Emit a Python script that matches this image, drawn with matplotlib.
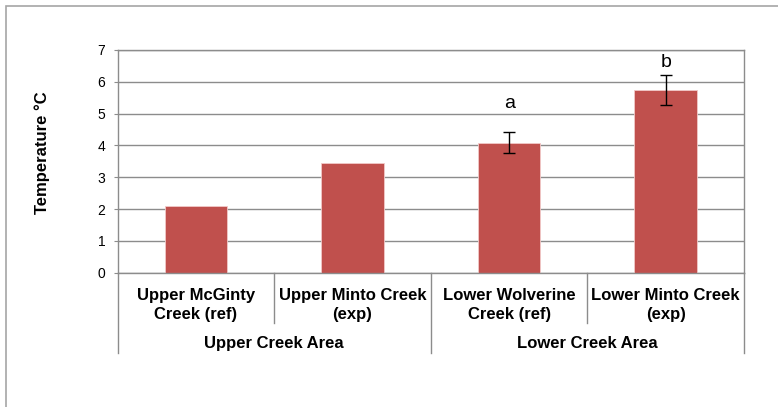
import matplotlib
matplotlib.use("Agg")
import matplotlib.pyplot as plt
from matplotlib.patches import Rectangle
from matplotlib.lines import Line2D

plt.rcParams['font.family'] = ['Liberation Sans', 'DejaVu Sans']

categories = ["Upper McGinty\nCreek (ref)", "Upper Minto Creek\n(exp)",
              "Lower Wolverine\nCreek (ref)", "Lower Minto Creek\n(exp)"]
groups = ["Upper Creek Area", "Lower Creek Area"]
values = [2.11, 3.46, 4.09, 5.73]
errors = [0, 0, 0.33, 0.47]
letters = ["", "", "a", "b"]
letter_y = [None, None, 5.33, 6.62]
yticks = [0, 1, 2, 3, 4, 5, 6, 7]

W, H = 778, 407
fig = plt.figure(figsize=(W / 100, H / 100), dpi=100)
# outer chart border (left and top visible)
fig.patches.append(Rectangle((6.5 / W, -0.1), 2, 1.1 - 6.5 / H, transform=fig.transFigure,
                             fill=False, edgecolor='#a6a6a6', lw=1.2))

left, right, top, bottom = 117.7, 744, 50, 272.7
ax = fig.add_axes([left / W, 1 - bottom / H, (right - left) / W, (bottom - top) / H])
ax.set_xlim(-0.5, 3.5)
ax.set_ylim(0, 7)
ax.set_yticks(yticks)
ax.set_yticklabels([str(t) for t in yticks], fontsize=10)
ax.yaxis.grid(True, color='#8c8c8c', lw=1)
ax.set_axisbelow(True)
ax.set_xticks([])
for s in ['left', 'bottom', 'right', 'top']:
    ax.spines[s].set_color('#8c8c8c')
    ax.spines[s].set_linewidth(1)
ax.tick_params(axis='y', length=3, color='#8c8c8c', pad=6)

x = list(range(len(categories)))
ax.bar(x, values, width=0.4, color='#c0504d', edgecolor='#f2c9c8', lw=0.6, zorder=2)
for xi, v, e in zip(x, values, errors):
    if e > 0:
        ax.errorbar(xi, v, yerr=e, fmt='none', ecolor='black', elinewidth=1, capsize=4, capthick=1, zorder=3)
for xi, l, ly in zip(x, letters, letter_y):
    if l:
        ax.text(xi, ly, l, ha='center', va='center', fontsize=14)

fig.text(42.5 / W, 1 - 152.6 / H, "Temperature °C", rotation=90, ha='center', va='center',
         fontsize=12, fontweight='bold')

# category axis table
trans = ax.get_xaxis_transform()
def ypx(p):
    return (bottom - p) / (bottom - top)
for b in [-0.5, 0.5, 1.5, 2.5, 3.5]:
    y1 = 353 if b in (-0.5, 1.5, 3.5) else 323
    ax.add_line(Line2D([b, b], [0, ypx(y1)], transform=trans, color='#8c8c8c', lw=1, clip_on=False))
for xi, c in zip(x, categories):
    for li, line in enumerate(c.split("\n")):
        ax.text(xi, ypx(300 + 18.5 * li), line, transform=trans, ha='center', va='baseline',
                fontsize=12, fontweight='bold')
for gi, g in enumerate(groups):
    ax.text(0.5 + 2 * gi, ypx(348), g, transform=trans, ha='center', va='baseline', fontsize=12,
            fontweight='bold')

fig.savefig("out.png", dpi=100)
